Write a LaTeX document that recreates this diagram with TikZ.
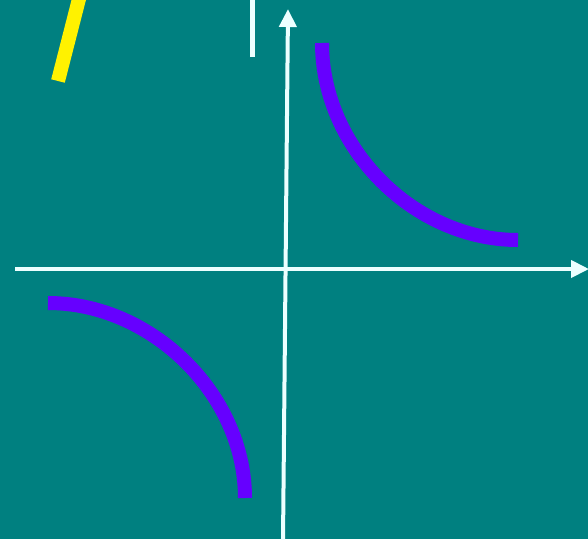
\documentclass[tikz,border=0pt]{standalone}
\usetikzlibrary{arrows.meta}

\definecolor{board}{RGB}{0,128,128}
\definecolor{branch}{RGB}{102,0,255}
\definecolor{chalk}{RGB}{236,255,255}

\begin{document}
\begin{tikzpicture}[x=1pt,y=-1pt,
  axis/.style={chalk,line width=4pt,-{Triangle[width=17pt,length=18pt]}},
  branchline/.style={branch,line width=14pt}]
\useasboundingbox (0,0) rectangle (588,539);
\clip (0,0) rectangle (588,539);
\fill[board] (0,0) rectangle (588,539);
% axes
\coordinate (xstart) at (15,269);
\coordinate (xend) at (589,269);
\coordinate (ystart) at (283,541);
\coordinate (yend) at (288,9);
\draw[axis] (xstart)--(xend);
\draw[axis] (ystart)--(yend);
% marks at the top
\coordinate (tick top) at (252,-2);
\coordinate (tick bottom) at (252,57);
\draw[chalk,line width=5pt] (tick top)--(tick bottom);
\coordinate (chalk top) at (80,-5);
\coordinate (chalk bottom) at (58,81);
\draw[yellow,line width=14pt] (chalk top)--(chalk bottom);
% the two branches
\coordinate (ne start) at (322,43);
\coordinate (ne end) at (518,240);
\draw[branchline] (ne start) .. controls (322,148) and (414,240) .. (ne end);
\coordinate (sw start) at (48,303);
\coordinate (sw end) at (245,498);
\draw[branchline] (sw start) .. controls (152,303) and (245,395) .. (sw end);
\end{tikzpicture}
\end{document}
